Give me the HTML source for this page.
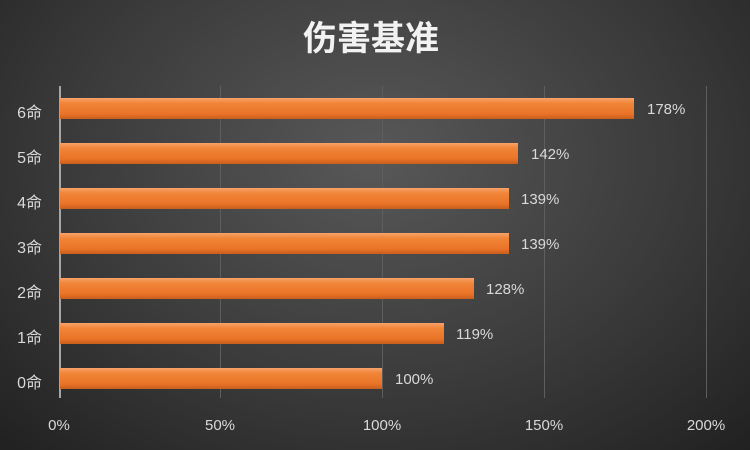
<!DOCTYPE html>
<html><head><meta charset="utf-8"><style>
html,body{margin:0;padding:0;}
body{width:750px;height:450px;overflow:hidden;position:relative;
background:radial-gradient(ellipse 75% 95% at 50% 35%,#585858 0%,#3a3a3a 55%,#1e1e1e 100%);
font-family:"Liberation Sans","Noto Sans CJK SC",sans-serif;color:#d9d9d9;}
.t{position:absolute;top:11px;left:-4px;width:750px;text-align:center;font-size:34px;font-weight:bold;color:#f2f2f2;font-family:"Noto Sans CJK SC",sans-serif;}
.g{position:absolute;top:86px;height:312px;width:1px;background:#5e5e5e;}
.ax{position:absolute;left:59px;top:86px;height:312px;width:2px;background:#a6a6a6;}
.bar{position:absolute;left:60px;height:21px;background:linear-gradient(#f9a36a 0%,#f08538 25%,#ea7428 75%,#c95e1c 100%);}
.yl{position:absolute;left:6px;width:36px;text-align:right;font-size:16px;font-family:"Liberation Sans","Noto Sans CJK SC",sans-serif;}
.vl{position:absolute;font-size:15px;}
.xl{position:absolute;top:417px;width:60px;text-align:center;font-size:15px;}
</style></head><body>
<div class="t">伤害基准</div>
<div class="g" style="left:220px"></div>
<div class="g" style="left:382px"></div>
<div class="g" style="left:544px"></div>
<div class="g" style="left:706px"></div>
<div class="ax"></div>

<div class="bar" style="top:98px;width:574px"></div><div class="yl" style="top:99px">6命</div><div class="vl" style="left:647px;top:101px">178%</div>
<div class="bar" style="top:143px;width:458px"></div><div class="yl" style="top:144px">5命</div><div class="vl" style="left:531px;top:146px">142%</div>
<div class="bar" style="top:188px;width:449px"></div><div class="yl" style="top:189px">4命</div><div class="vl" style="left:521px;top:191px">139%</div>
<div class="bar" style="top:233px;width:449px"></div><div class="yl" style="top:234px">3命</div><div class="vl" style="left:521px;top:236px">139%</div>
<div class="bar" style="top:278px;width:414px"></div><div class="yl" style="top:279px">2命</div><div class="vl" style="left:486px;top:281px">128%</div>
<div class="bar" style="top:323px;width:384px"></div><div class="yl" style="top:324px">1命</div><div class="vl" style="left:456px;top:326px">119%</div>
<div class="bar" style="top:368px;width:322px"></div><div class="yl" style="top:369px">0命</div><div class="vl" style="left:395px;top:371px">100%</div>

<div class="xl" style="left:29px">0%</div>
<div class="xl" style="left:190px">50%</div>
<div class="xl" style="left:352px">100%</div>
<div class="xl" style="left:514px">150%</div>
<div class="xl" style="left:676px">200%</div>
</body></html>
